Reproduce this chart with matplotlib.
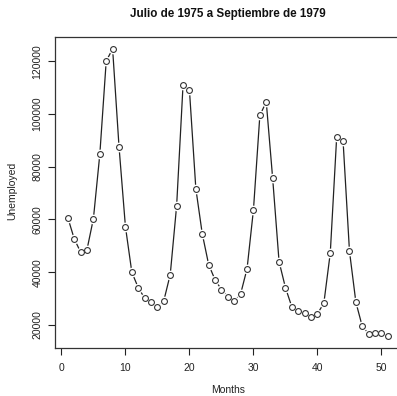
import matplotlib
matplotlib.use("Agg")
import matplotlib.pyplot as plt
import numpy as np

months = list(range(1, 52))
unemployed = [60700, 52700, 47600, 48600, 60300, 84700, 120100, 124700, 87600, 57300,
              40000, 34100, 30200, 28500, 26900, 29200, 39100, 65200, 111000, 109100,
              71700, 54600, 42900, 37100, 33400, 30700, 29000, 31800, 41300, 63700,
              99500, 104600, 75600, 44000, 34100, 26800, 25300, 24700, 22900, 24200,
              28300, 47300, 91300, 89700, 47900, 28600, 19400, 16700, 16900, 16900,
              15600]
xticks = [0, 10, 20, 30, 40, 50]
yticks = [20000, 40000, 60000, 80000, 100000, 120000]
title = "Julio de 1975 a Septiembre de 1979"

plt.rcParams['font.family'] = ['Liberation Sans', 'DejaVu Sans']

W, H = 397, 396
fig = plt.figure(figsize=(W / 100, H / 100), dpi=100)
left, right, top, bottom = 55, 400.7, 37.4, 348
aw, ah = right - left, bottom - top
ax = fig.add_axes([left / W, (H - bottom) / H, aw / W, ah / H])

x = np.array(months)
y = np.array(unemployed)
ax.plot(x, y, color='#222222', lw=0.9, zorder=1)
ax.plot(x, y, ls='none', marker='o', ms=7.0, mfc='white', mec='white', mew=0, zorder=2)
ax.plot(x, y, ls='none', marker='o', ms=4.2, mfc='white', mec='#333333', mew=0.8, zorder=3)

xr = x.max() - x.min()
yr = y.max() - y.min()
ax.set_xlim(x.min() - 0.04 * xr, x.max() + 0.04 * xr)
ax.set_ylim(y.min() - 0.04 * yr, y.max() + 0.04 * yr)

ax.set_xticks(xticks)
ax.set_xticklabels([str(v) for v in xticks])
ax.set_yticks(yticks)
ax.set_yticklabels([str(v) for v in yticks], rotation=90, va='center')
ax.tick_params(axis='both', direction='out', length=5, width=0.8, labelsize=7.5,
               color='#222222', labelcolor='#222222')
ax.tick_params(axis='x', pad=6)
ax.tick_params(axis='y', pad=4)
for s in ax.spines.values():
    s.set_linewidth(0.9)
    s.set_color('#333333')

ax.set_xlabel("Months", fontsize=7.5, color='#222222')
ax.xaxis.set_label_coords(0.5, (bottom - 390) / ah)
ax.xaxis.label.set_va('center')
ax.set_ylabel("Unemployed", fontsize=7.5, color='#222222')
ax.yaxis.set_label_coords((12 - left) / aw, (bottom - 191) / ah)
ax.yaxis.label.set_va('center')
fig.text((left + right) / 2 / W, 1 - 14 / H, title, ha='center', va='center',
         fontsize=8.4, fontweight='bold', color='#111111')

fig.savefig("out.png", dpi=100)
